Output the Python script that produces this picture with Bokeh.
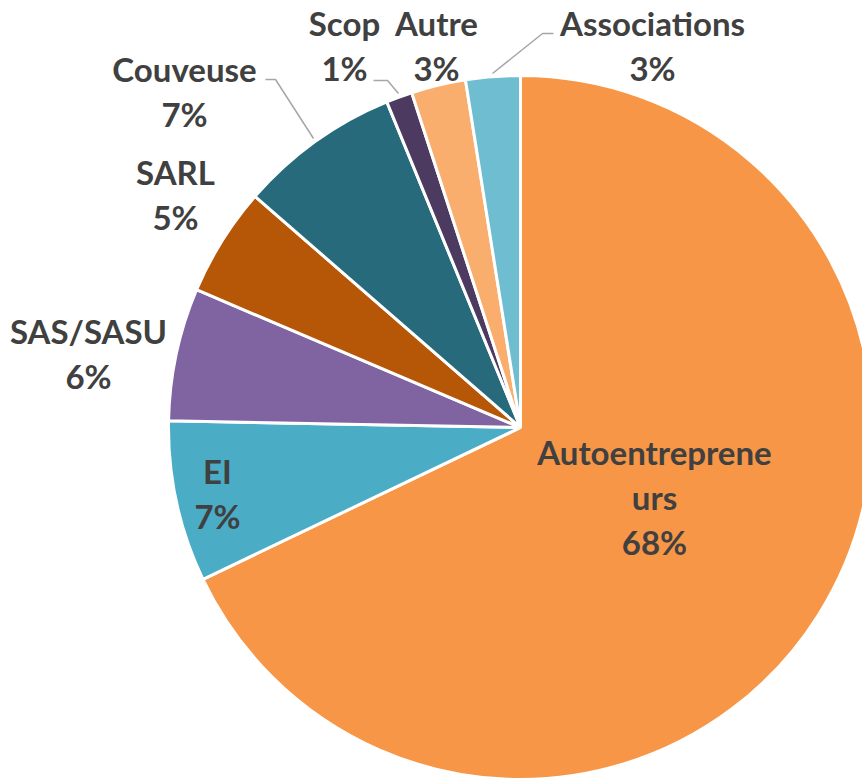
import math
from bokeh.plotting import figure
from bokeh.models import Range1d, ColumnDataSource
from bokeh.core.properties import value
from bokeh.embed import file_html
from bokeh.resources import INLINE

# ---- data ----
categories = ["Autoentrepreneurs", "EI", "SAS/SASU", "SARL", "Couveuse", "Scop", "Autre", "Associations"]
shares = [67.9, 7.4, 6.1, 5.0, 7.4, 1.2, 2.5, 2.5]
label_names = ["Autoentreprene\nurs", "EI", "SAS/SASU", "SARL", "Couveuse", "Scop", "Autre", "Associations"]
colors = ["#F79646", "#4BACC6", "#8064A2", "#B65708", "#276A7C", "#4D3A61", "#F9AE6E", "#6FBDD1"]

# ---- layout (screen pixel coordinates) ----
W, H = 862, 780
CX, CY, R = 520, 427, 352
label_pos = [(654, 451), (217, 470), (88, 330), (175, 171), (184, 68), (344, 22), (436, 22), (652, 22)]
LINE_H = 45
leaders = [
    ([265, 275, 313], [79, 79, 138]),
    ([373, 387, 398], [80, 80, 93]),
    ([553, 542, 492], [33, 33, 73]),
]

p = figure(width=W, height=H, output_backend="svg", toolbar_location=None,
           x_range=Range1d(0, W), y_range=Range1d(-H, 0), min_border=0)
p.axis.visible = False
p.grid.visible = False
p.outline_line_color = None
p.background_fill_color = "white"

total = sum(shares)
starts, ends = [], []
acc = 0.0
for s in shares:
    a0 = acc / total * 2 * math.pi
    acc += s
    a1 = acc / total * 2 * math.pi
    starts.append(math.pi / 2 - a0)
    ends.append(math.pi / 2 - a1)

src = ColumnDataSource(dict(start=starts, end=ends, color=colors, cat=categories))
p.wedge(x=CX, y=-CY, radius=R, start_angle="start", end_angle="end", direction="clock",
        fill_color="color", line_color="white", line_width=3, source=src)

for xs, ys in leaders:
    p.line(xs, [-y for y in ys], line_color="#A6A6A6", line_width=1.5)

tx, ty, tt = [], [], []
for name, s, (lx, ly) in zip(label_names, shares, label_pos):
    pct = int(s / total * 100 + 0.5)
    lines = name.split("\n") + [f"{pct}%"]
    for i, ln in enumerate(lines):
        tx.append(lx)
        ty.append(-(ly + i * LINE_H))
        tt.append(ln)

p.text(x=tx, y=ty, text=tt, text_font=value("Lato"), text_font_style="bold",
       text_font_size="33px", text_color="#404040", text_align="center", text_baseline="middle")

open("out.html", "w").write(file_html(p, INLINE))
